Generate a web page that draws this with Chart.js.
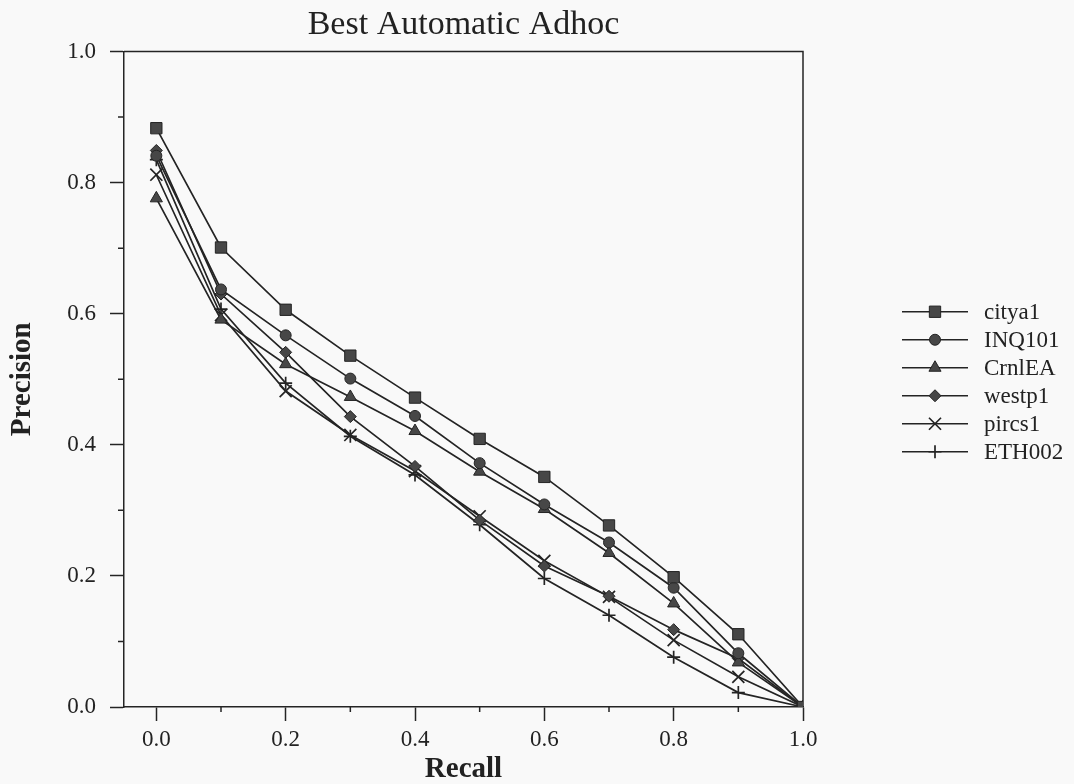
<!DOCTYPE html>
<html>
<head>
<meta charset="utf-8">
<title>Best Automatic Adhoc</title>
<script src="https://cdn.jsdelivr.net/npm/chart.js@4.4.1/dist/chart.umd.min.js"></script>
<style>
  html, body { margin: 0; padding: 0; background: #f9f9f9; }
  canvas { display: block; }
</style>
</head>
<body>
<canvas id="chart" width="1074" height="784"></canvas>
<script>
// recall levels (x) and interpolated precision per run (y)
const recall = [0.0, 0.1, 0.2, 0.3, 0.4, 0.5, 0.6, 0.7, 0.8, 0.9, 1.0];
const citya1 = [0.883, 0.701, 0.606, 0.536, 0.472, 0.409, 0.351, 0.277, 0.198, 0.111, 0.0];
const inq101 = [0.841, 0.637, 0.567, 0.501, 0.444, 0.372, 0.309, 0.251, 0.182, 0.082, 0.0];
const crnlEA = [0.776, 0.591, 0.523, 0.473, 0.421, 0.359, 0.302, 0.235, 0.158, 0.068, 0.0];
const westp1 = [0.849, 0.630, 0.541, 0.443, 0.367, 0.285, 0.215, 0.169, 0.118, 0.074, 0.0];
const pircs1 = [0.812, 0.598, 0.482, 0.415, 0.360, 0.291, 0.223, 0.168, 0.102, 0.046, 0.0];
const eth002 = [0.835, 0.607, 0.494, 0.413, 0.354, 0.278, 0.196, 0.140, 0.076, 0.022, 0.0];

const runNames = ["citya1", "INQ101", "CrnlEA", "westp1", "pircs1", "ETH002"];
const runValues = [citya1, inq101, crnlEA, westp1, pircs1, eth002];

const tickValues = [0.0, 0.1, 0.2, 0.3, 0.4, 0.5, 0.6, 0.7, 0.8, 0.9, 1.0];
const tickLabels = ["0.0", "", "0.2", "", "0.4", "", "0.6", "", "0.8", "", "1.0"];

const chartTitle = "Best Automatic Adhoc";
const xTitle = "Recall";
const yTitle = "Precision";

const INK = "#242424";
const FILL = "#474747";
const SERIF = "'Liberation Serif', 'DejaVu Serif', serif";

const markers = [
  { pointStyle: "rect", radius: 8, lineMarker: false },
  { pointStyle: "circle", radius: 5.5, lineMarker: false },
  { pointStyle: "triangle", radius: 7, lineMarker: false },
  { pointStyle: "rectRot", radius: 6, lineMarker: false },
  { pointStyle: "crossRot", radius: 8.5, lineMarker: true },
  { pointStyle: "cross", radius: 6.5, lineMarker: true }
];

function isMajor(value) {
  return Math.round(value * 10) % 2 === 0;
}

function labelFor(value) {
  const idx = tickValues.findIndex((v) => Math.abs(v - value) < 1e-9);
  return idx >= 0 ? tickLabels[idx] : "";
}

const datasets = runNames.map((name, i) => ({
  label: name,
  data: recall.map((r, j) => ({ x: r, y: runValues[i][j] })),
  showLine: true,
  borderColor: INK,
  borderWidth: 1.7,
  tension: 0,
  pointStyle: markers[i].pointStyle,
  pointRadius: markers[i].radius,
  pointHoverRadius: markers[i].radius,
  pointBackgroundColor: FILL,
  pointBorderColor: INK,
  pointBorderWidth: markers[i].lineMarker ? 1.7 : 1
}));

function setTicks(scale) {
  scale.ticks = tickValues.map((v) => ({ value: v }));
}

const decorations = {
  id: "decorations",
  beforeDatasetsDraw(chart) {
    const { ctx, chartArea, scales } = chart;
    const { left, right, top, bottom } = chartArea;
    ctx.save();
    ctx.strokeStyle = INK;
    ctx.lineWidth = 1.5;

    // frame top and right
    ctx.beginPath();
    ctx.moveTo(left, top);
    ctx.lineTo(right, top);
    ctx.lineTo(right, bottom);
    ctx.stroke();

    // minor ticks
    ctx.beginPath();
    tickValues.filter((v) => !isMajor(v)).forEach((v) => {
      const px = scales.x.getPixelForValue(v);
      ctx.moveTo(px, bottom);
      ctx.lineTo(px, bottom + 5);
      const py = scales.y.getPixelForValue(v);
      ctx.moveTo(left, py);
      ctx.lineTo(left - 6, py);
    });
    ctx.stroke();
    ctx.restore();
  },
  afterDraw(chart) {
    const { ctx, chartArea } = chart;
    const { left, right, top, bottom } = chartArea;
    ctx.save();

    // title
    ctx.fillStyle = "#222";
    ctx.font = "34px " + SERIF;
    ctx.textAlign = "center";
    ctx.textBaseline = "alphabetic";
    ctx.fillText(chartTitle, (left + right) / 2, 34);

    // legend: line sample with marker, then name
    const midY = (top + bottom) / 2 + 2.5;
    const rowGap = 28;
    const x0 = right + 99;
    const x1 = right + 165;
    const mx = right + 132;
    ctx.font = "23px " + SERIF;
    ctx.textAlign = "left";
    ctx.textBaseline = "middle";
    chart.data.datasets.forEach((ds, i) => {
      const y = midY + (i - (runNames.length - 1) / 2) * rowGap;
      ctx.strokeStyle = INK;
      ctx.lineWidth = 1.7;
      ctx.beginPath();
      ctx.moveTo(x0, y);
      ctx.lineTo(x1, y);
      ctx.stroke();
      ctx.fillStyle = FILL;
      ctx.strokeStyle = INK;
      ctx.lineWidth = ds.pointBorderWidth;
      Chart.helpers.drawPoint(ctx, { pointStyle: ds.pointStyle, radius: ds.pointRadius, rotation: 0, borderWidth: ds.pointBorderWidth }, mx, y);
      ctx.fillStyle = "#222";
      ctx.fillText(ds.label, right + 181, y + 1);
    });
    ctx.restore();
  }
};

new Chart(document.getElementById("chart"), {
  type: "scatter",
  data: { datasets },
  options: {
    responsive: false,
    animation: false,
    devicePixelRatio: 1,
    layout: { padding: { top: 51.5, right: 271, left: 0, bottom: 0 } },
    plugins: {
      legend: { display: false },
      tooltip: { enabled: false },
      title: { display: false }
    },
    scales: {
      x: {
        type: "linear",
        min: -0.05,
        max: 1.0,
        afterBuildTicks: setTicks,
        afterFit(scale) {
          scale.height = 77;
          scale.paddingLeft = 0;
          scale.paddingRight = 0;
        },
        ticks: {
          autoSkip: false,
          maxRotation: 0,
          padding: 5,
          color: "#222",
          font: { family: SERIF, size: 23 },
          callback: (value) => labelFor(value)
        },
        grid: {
          drawOnChartArea: false,
          drawTicks: true,
          tickLength: 14,
          tickWidth: 1.5,
          tickColor: (c) => (c.tick && isMajor(c.tick.value) ? INK : "rgba(0,0,0,0)")
        },
        border: { display: true, color: INK, width: 1.5 },
        title: {
          display: true,
          text: xTitle,
          color: "#222",
          padding: { top: 0, bottom: 0 },
          font: { family: SERIF, size: 29, weight: "bold", lineHeight: 1 }
        }
      },
      y: {
        type: "linear",
        min: 0,
        max: 1.0,
        afterBuildTicks: setTicks,
        afterFit(scale) {
          scale.width = 124;
          scale.paddingTop = 0;
          scale.paddingBottom = 0;
        },
        ticks: {
          autoSkip: false,
          padding: 14,
          color: "#222",
          font: { family: SERIF, size: 23 },
          callback: (value) => labelFor(value)
        },
        grid: {
          drawOnChartArea: false,
          drawTicks: true,
          tickLength: 14,
          tickWidth: 1.5,
          tickColor: (c) => (c.tick && isMajor(c.tick.value) ? INK : "rgba(0,0,0,0)")
        },
        border: { display: true, color: INK, width: 1.5 },
        title: {
          display: true,
          text: yTitle,
          color: "#222",
          padding: { top: 8, bottom: 0 },
          font: { family: SERIF, size: 29, weight: "bold", lineHeight: 1 }
        }
      }
    }
  },
  plugins: [decorations]
});
</script>
</body>
</html>
